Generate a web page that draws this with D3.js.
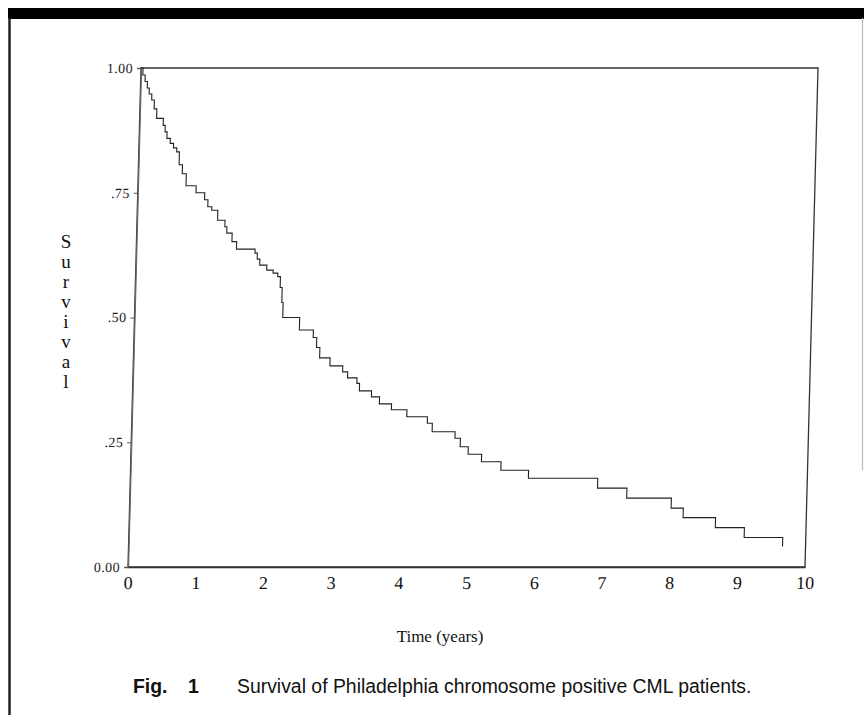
<!DOCTYPE html>
<html>
<head>
<meta charset="utf-8">
<script src="https://cdn.jsdelivr.net/npm/d3@7/dist/d3.min.js"></script>
<style>
	html, body { margin: 0; padding: 0; background: #fff; }
	svg { display: block; }
</style>
</head>
<body>
<svg id="fig" width="864" height="715"></svg>
<script>
// Kaplan-Meier survival
const kmTime = [0, 0.03, 0.065, 0.10, 0.13, 0.17, 0.21, 0.25, 0.35, 0.38, 0.41, 0.46, 0.51, 0.56, 0.60, 0.65, 0.71,
	0.86, 0.99, 1.04, 1.10, 1.19, 1.30, 1.33, 1.41, 1.48, 1.755, 1.79, 1.83, 1.935, 2.03, 2.10, 2.14, 2.17, 2.19,
	2.44, 2.647, 2.70, 2.75, 2.905, 3.095, 3.17, 3.31, 3.35, 3.53, 3.65, 3.83, 4.06, 4.365, 4.44, 4.78, 4.86,
	4.98, 5.18, 5.47, 5.88, 6.905, 7.34, 8.00, 8.18, 8.66, 9.09, 9.66];
const kmSurv = [1.0, 0.986, 0.973, 0.96, 0.948, 0.936, 0.918, 0.899, 0.885, 0.872, 0.859, 0.849, 0.84, 0.832, 0.806, 0.788, 0.764,
	0.750, 0.736, 0.722, 0.715, 0.695, 0.682, 0.669, 0.652, 0.637, 0.629, 0.617, 0.605, 0.595, 0.589, 0.582, 0.56, 0.53, 0.50,
	0.475, 0.46, 0.44, 0.419, 0.403, 0.391, 0.379, 0.368, 0.353, 0.341, 0.327, 0.315, 0.301, 0.288, 0.271, 0.258, 0.241,
	0.226, 0.211, 0.194, 0.178, 0.158, 0.138, 0.118, 0.099, 0.079, 0.059, 0.041];

const xTicks = [0, 1, 2, 3, 4, 5, 6, 7, 8, 9, 10];
const yTicks = [0, 0.25, 0.5, 0.75, 1];
const yTickLabels = ['0.00', '.25', '.50', '.75', '1.00'];
const yTitle = 'Survival';
const xTitle = 'Time (years)';
const capLead = ['Fig.', '1'];
const capText = 'Survival of Philadelphia chromosome positive CML patients.';

const L = 128, R = 805, T = 68, B = 567;
// the scan is sheared a little: top of the box sits ~13px right of the bottom
const SHEAR = Math.atan(-13 / (B - T)) * 180 / Math.PI;

let svg = d3.select('#fig');

// page furniture from the scan
svg.append('rect').attr('x', 8).attr('y', 8).attr('width', 856).attr('height', 11).attr('fill', '#000');
svg.append('line').attr('x1', 9.5).attr('x2', 9.5).attr('y1', 18).attr('y2', 715)
	.attr('stroke', '#222').attr('stroke-width', 2.5);
svg.append('line').attr('x1', 862.5).attr('x2', 862.5).attr('y1', 18).attr('y2', 470)
	.attr('stroke', '#bbb').attr('stroke-width', 1.2);

let x = d3.scaleLinear().domain([0, 10]).range([L, R]);
let y = d3.scaleLinear().domain([0, 1]).range([B, T]);

let plot = svg.append('g')
	.attr('transform', `translate(0,${B}) skewX(${SHEAR}) translate(0,${-B})`);

// box
plot.append('rect')
	.attr('x', x(0)).attr('y', y(1))
	.attr('width', x(10) - x(0)).attr('height', y(0) - y(1))
	.attr('fill', 'none').attr('stroke', '#333').attr('stroke-width', 1.3);

let yAxis = d3.axisLeft(y).tickValues(yTicks)
	.tickFormat((d, i) => yTickLabels[i]).tickSize(4).tickPadding(4);
let yg = plot.append('g').attr('transform', `translate(${L},0)`).call(yAxis);
yg.select('.domain').attr('stroke', '#666').attr('stroke-width', 1.3);
yg.selectAll('.tick line').attr('stroke', '#555');
yg.selectAll('.tick text')
	.attr('font-family', '"Liberation Serif", serif').attr('font-size', 14)
	.attr('fill', '#222').attr('letter-spacing', 0.4);

let xAxis = d3.axisBottom(x).tickValues(xTicks).tickSize(0).tickPadding(9);
let xg = plot.append('g').attr('transform', `translate(0,${B})`).call(xAxis);
xg.select('.domain').attr('stroke', '#333').attr('stroke-width', 1.6);
xg.selectAll('.tick text')
	.attr('font-family', '"Liberation Serif", serif').attr('font-size', 18).attr('fill', '#111');

// survival curve
let line = d3.line()
	.x((d, i) => x(kmTime[i]))
	.y((d) => y(d))
	.curve(d3.curveStepAfter);
plot.append('path')
	.datum(kmSurv)
	.attr('d', line)
	.attr('fill', 'none').attr('stroke', '#222').attr('stroke-width', 1.1);

// vertical y title, one letter per line
svg.append('g').selectAll('text')
	.data(yTitle.split(''))
	.enter().append('text')
		.attr('x', 66)
		.attr('y', (d, i) => 248 + i * 20)
		.attr('text-anchor', 'middle')
		.attr('font-family', '"Liberation Serif", serif').attr('font-size', 19).attr('fill', '#111')
		.text((d) => d);

svg.append('text')
	.attr('x', 440).attr('y', 642)
	.attr('text-anchor', 'middle')
	.attr('font-family', '"Liberation Serif", serif').attr('font-size', 17).attr('fill', '#111')
	.text(xTitle);

let cap = svg.append('text')
	.attr('y', 693)
	.attr('font-family', '"Liberation Sans", Arial, sans-serif').attr('font-size', 19.4).attr('fill', '#111');
cap.append('tspan').attr('x', 133).attr('font-weight', 'bold').text(capLead[0]);
cap.append('tspan').attr('x', 188).attr('font-weight', 'bold').text(capLead[1]);
cap.append('tspan').attr('x', 237).text(capText);
</script>
</body>
</html>
